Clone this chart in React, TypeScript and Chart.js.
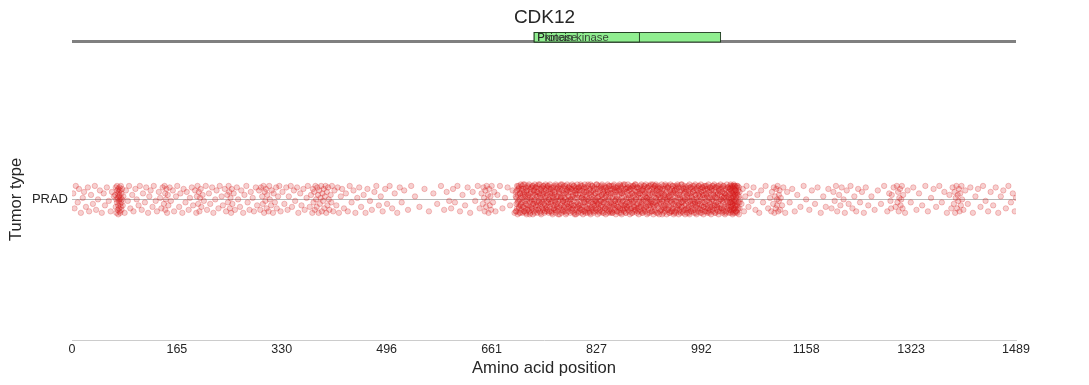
import React, { useEffect, useRef } from "react";
import { Chart, registerables } from "chart.js";

Chart.register(...registerables);

const FONT = "'Liberation Sans', Arial, Helvetica, sans-serif";
const TEXT = "#262626";

const geneName = "CDK12";
const proteinLength = 1489;
const tumorTypes = ["PRAD"];
const xTickValues = [0, 165.4, 330.9, 496.3, 661.8, 827.2, 992.7, 1158.1, 1323.6, 1489];
const xTickLabels = ["0", "165", "330", "496", "661", "827", "992", "1158", "1323", "1489"];

const domainNames = ["Protein kinase", "Pkinase"];
const domainStarts = [729, 729];
const domainEnds = [1023, 895];

// mutations: [amino acid position, jitter around the tumor-type row]
const nTermPoints: [number, number][] = [
  [2,4],[4,-6],[6,9],[9,-2],[11,7],[14,-9],[17,1],[19,5],[22,-5],[25,8],[27,-8],[30,3],[33,-3],[36,9],[38,-7],[41,0],[44,6],[47,-9],[50,4],[52,-4],[55,8],[58,-1],[61,-8],[63,5],[66,2],
];
const hotspot70Points: [number, number][] = [
  [68,3],[69,-5],[69,8],[70,0],[70,-9],[71,6],[71,-2],[71,9],[72,-7],[72,1],[72,4],[73,-4],[73,7],[73,-10],[74,2],[74,-1],[74,5],[74,-6],[75,0],[75,8],[75,-8],[75,3],[76,-3],[76,6],[76,-9],[77,1],[77,9],[77,-5],[78,4],[78,-2],[78,-7],[79,7],[79,0],[80,-4],[81,2],
];
const rsDomainPoints: [number, number][] = [
  [83,-9],[85,6],[88,-1],[90,9],[92,-6],[95,3],[97,-8],[100,7],[102,0],[105,-4],[107,9],[110,-7],[112,4],[115,-2],[117,8],[120,-9],[122,2],[124,6],[127,-5],[129,9],[132,-1],[134,-8],[137,5],[139,1],[141,-6],[143,8],[145,-3],[146,9],[147,4],[147,-7],[148,0],[149,7],[150,-9],[151,3],[152,-4],[154,8],[156,-1],[159,6],[161,-8],[164,2],[166,9],[169,-5],[171,4],[174,-9],[176,7],[179,-2],[181,5],[184,-7],[186,1],[189,8],[191,-4],[194,6],[196,-9],[197,2],[198,9],[199,-3],[200,5],[201,-8],[202,1],[203,7],[204,-5],[206,3],[208,-1],[211,9],[213,-7],[216,4],[218,-3],[221,8],[223,-9],[226,0],[228,6],[231,-6],[233,9],[236,2],[238,-4],[241,7],[243,-8],[245,3],[246,-2],[247,9],[248,5],[249,-6],[250,1],[251,-9],[252,7],[253,-3],[255,4],[257,-7],[260,8],[262,0],[265,-5],[267,6],[270,-9],[272,3],[275,9],[277,-2],[280,-7],[282,5],[285,1],[287,-8],[290,8],[292,-4],[295,6],
];
const midPoints: [number, number][] = [
  [297,-7],[298,8],[300,2],[301,-3],[302,9],[303,-9],[304,5],[305,-1],[306,7],[307,-6],[308,3],[310,-8],[311,9],[312,0],[314,-4],[315,6],[317,-9],[318,4],[320,-2],[322,8],[323,-6],[325,2],[327,9],[329,-8],[332,5],[335,-3],[338,8],[340,-7],[342,2],[345,9],[347,-5],[350,6],[352,-1],[355,8],[357,-9],[360,4],[362,-4],[365,7],[367,-7],[370,1],[372,9],[375,-5],[377,3],[379,-9],[380,7],[381,-2],[382,5],[383,-7],[384,9],[385,0],[386,-5],[387,8],[388,3],[389,-9],[390,6],[391,-3],[392,1],[393,9],[394,-8],[395,4],[396,-1],[397,7],[398,-6],[399,2],[400,9],[401,-9],[402,5],[403,-4],[404,8],[405,0],[406,-7],[408,3],[409,-2],[410,9],[412,-8],[414,6],[417,-4],[419,8],[421,-9],[424,2],[426,7],[429,-6],
];
const sparsePoints: [number, number][] = [
  [432,4],[435,-8],[438,9],[441,-2],[444,6],[447,-9],[450,1],[453,8],[456,-5],[460,3],[463,-9],[466,7],[470,-1],[473,-7],[477,5],[480,9],[484,-4],[487,2],[490,-8],[494,7],[497,-3],[501,9],[505,-6],[509,4],[513,-9],[517,8],[520,-2],[524,6],[530,-7],[535,9],[541,2],[548,-5],[556,7],[563,-8],[570,4],[576,-3],[582,9],[587,-7],[591,5],[595,-1],
  [598,-6],[601,7],[604,-2],[608,9],[612,-8],[616,3],[620,-4],[624,8],[628,-9],[632,5],[636,-1],[640,9],[643,-6],[646,4],[648,-3],[649,8],[650,1],[651,-8],[652,6],[653,-5],[654,9],[655,-1],[656,3],[657,-9],[658,7],[659,-4],[660,2],[661,-7],[662,9],[664,-2],[666,5],[668,-8],[671,3],[675,9],[679,-6],[683,1],[687,8],[691,-4],[695,6],[698,-9],
];
const kinaseBlockA: [number, number][] = [
  [700,-8],[700,5],[701,1],[701,-3],[702,9],[702,-6],[703,3],[703,-10],[704,7],[704,-1],[705,-5],[705,8],[706,0],[706,-9],[707,4],[707,-4],[708,10],[708,2],[709,-7],[709,6],[710,-2],[710,9],[711,-9],[711,3],[712,7],[712,-5],[713,-1],[713,5],[714,-8],[714,10],[715,2],[715,-6],[716,8],[716,-3],[717,-10],[717,4],[718,6],[718,0],[719,-7],[719,9],[720,-4],[720,3],[721,10],[721,-8],[722,1],[722,-2],[723,7],[723,-9],[724,5],[724,-5],[725,-1],[725,8],[726,-6],[726,2],[727,9],[727,-10],[728,4],[728,-3],[729,-8],[729,6],[730,0],[730,10],[731,-5],[731,3],[732,8],[732,-7],[733,-2],[733,5],[734,-9],[734,9],[735,2],[735,-4],[736,7],[736,-1],[737,-6],[737,4],[738,10],[738,-8],[739,1],[739,-3],[740,6],[740,-10],[741,-5],[741,8],[742,3],[742,-2],[743,-7],[743,9],[744,0],[744,5],[745,-9],[745,7],[746,-4],[746,2],[747,10],[747,-6],[748,-1],[748,4],[749,8],[749,-8],
  [750,3],[750,-7],[751,9],[751,-2],[752,-9],[752,5],[753,0],[753,7],[754,-5],[754,10],[755,-3],[755,2],[756,8],[756,-8],[757,-1],[757,4],[758,-10],[758,6],[759,1],[759,-6],[760,9],[760,-4],[761,-7],[761,3],[762,5],[762,-2],[763,10],[763,-9],[764,-3],[764,1],[765,7],[765,-5],[766,-8],[766,8],[767,2],[767,-1],[768,-6],[768,6],[769,9],[769,-10],[770,0],[770,4],[771,-4],[771,10],[772,-9],[772,2],[773,6],[773,-3],[774,-7],[774,8],[775,3],[775,-1],[776,-5],[776,9],[777,1],[777,-8],[778,7],[778,-2],[779,-10],[779,5],[780,4],[780,-6],[781,10],[781,-3],[782,-1],[782,6],[783,-8],[783,2],[784,8],[784,-5],[785,-2],[785,9],[786,5],[786,-9],[787,-4],[787,0],[788,7],[788,-7],[789,2],[789,10],[790,-6],[790,3],[791,9],[791,-1],[792,-9],[792,6],[793,1],[793,-4],[794,-7],[794,8],[795,4],[795,-10],[796,-2],[796,7],[797,10],[797,-5],[798,-3],[798,3],[799,6],[799,-8],
];
const kinaseBlockB: [number, number][] = [
  [800,-1],[800,8],[801,-6],[801,4],[802,10],[802,-3],[803,-9],[803,1],[804,6],[804,-7],[805,2],[805,9],[806,-4],[806,-10],[807,7],[807,0],[808,-2],[808,5],[809,-8],[809,10],[810,3],[810,-5],[811,8],[811,-1],[812,-7],[812,6],[813,0],[813,-9],[814,9],[814,-3],[815,-6],[815,4],[816,1],[816,-8],[817,7],[817,-4],[818,-10],[818,10],[819,5],[819,-2],[820,-5],[820,2],[821,9],[821,-7],[822,-3],[822,6],[823,-9],[823,3],[824,8],[824,-1],[825,-6],[825,0],[826,4],[826,-8],[827,10],[827,-4],[828,-2],[828,7],[829,-10],[829,1],[830,5],[830,-6],[831,-3],[831,9],[832,2],[832,-9],[833,-7],[833,6],[834,8],[834,-1],[835,-4],[835,3],[836,10],[836,-8],[837,0],[837,-5],[838,7],[838,-2],[839,-9],[839,4],[840,1],[840,9],[841,-6],[841,6],[842,-1],[842,-10],[843,8],[843,3],[844,-7],[844,-3],[845,5],[845,10],[846,-5],[846,0],[847,9],[847,-8],[848,2],[848,-4],[849,6],[849,-9],
  [850,4],[850,-2],[851,-8],[851,9],[852,1],[852,-5],[853,7],[853,-9],[854,-3],[854,5],[855,10],[855,-7],[856,-1],[856,3],[857,-6],[857,8],[858,0],[858,-10],[859,6],[859,-4],[860,-8],[860,2],[861,9],[861,-2],[862,-5],[862,7],[863,3],[863,-9],[864,-1],[864,10],[865,-7],[865,5],[866,8],[866,-3],[867,-10],[867,1],[868,4],[868,-6],[869,9],[869,-1],[870,-4],[870,6],[871,2],[871,-8],[872,-6],[872,10],[873,7],[873,-3],[874,-9],[874,0],[875,5],[875,-5],[876,-2],[876,8],[877,10],[877,-7],[878,1],[878,-4],[879,-8],[879,6],[880,3],[880,-10],[881,-3],[881,9],[882,7],[882,-6],[883,-1],[883,4],[884,-9],[884,8],[885,2],[885,-2],[886,9],[886,-5],[887,-7],[887,3],[888,6],[888,-8],[889,0],[889,10],[890,-4],[890,1],[891,8],[891,-9],[892,-6],[892,5],[893,3],[893,-3],[894,-10],[894,7],[895,4],[895,-1],[896,-7],[896,9],[897,1],[897,-5],[898,10],[898,-8],[899,-2],[899,6],
];
const kinaseBlockC: [number, number][] = [
  [900,-9],[900,3],[901,7],[901,-4],[902,0],[902,9],[903,-6],[903,5],[904,2],[904,-8],[905,10],[905,-1],[906,-5],[906,6],[907,-10],[907,1],[908,8],[908,-3],[909,4],[909,-7],[910,-2],[910,9],[911,6],[911,-9],[912,-4],[912,3],[913,10],[913,-6],[914,0],[914,-1],[915,7],[915,-8],[916,-3],[916,5],[917,-10],[917,8],[918,2],[918,-5],[919,9],[919,-2],[920,-7],[920,4],[921,1],[921,10],[922,-9],[922,6],[923,-4],[923,-1],[924,8],[924,3],[925,-6],[925,9],[926,5],[926,-10],[927,-2],[927,7],[928,-8],[928,0],[929,4],[929,-3],[930,10],[930,-7],[931,-1],[931,6],[932,-5],[932,2],[933,9],[933,-9],[934,3],[934,-4],[935,-8],[935,7],[936,1],[936,10],[937,-6],[937,-2],[938,5],[938,-10],[939,8],[939,0],[940,-3],[940,4],[941,-7],[941,9],[942,2],[942,-5],[943,6],[943,-9],[944,-1],[944,10],[945,-4],[945,3],[946,7],[946,-8],[947,0],[947,-6],[948,9],[948,5],[949,-3],[949,-10],
  [950,6],[950,-1],[951,-8],[951,2],[952,9],[952,-5],[953,4],[953,-9],[954,-2],[954,7],[955,-6],[955,10],[956,1],[956,-4],[957,8],[957,-10],[958,-3],[958,3],[959,5],[959,-7],[960,-9],[960,0],[961,10],[961,-2],[962,-5],[962,6],[963,2],[963,-8],[964,8],[964,-1],[965,-7],[965,4],[966,-4],[966,9],[967,0],[967,-10],[968,7],[968,-3],[969,-6],[969,5],[970,3],[970,-9],[971,9],[971,1],[972,-2],[972,-7],[973,6],[973,-5],[974,-10],[974,10],[975,4],[975,-1],[976,-8],[976,8],[977,2],[977,-4],[978,-6],[978,7],[979,9],[979,-3],[980,-1],[980,5],[981,-9],[981,0],[982,6],[982,-7],[983,10],[983,-2],[984,-5],[984,3],[985,1],[985,-10],[986,8],[986,-4],[987,-3],[987,6],[988,-8],[988,9],[989,4],[989,-1],[990,-6],[990,2],[991,7],[991,-9],[992,0],[992,10],[993,-4],[993,5],[994,-7],[994,8],[995,3],[995,-2],[996,-10],[996,6],[997,9],[997,-5],[998,1],[998,-8],[999,-3],[999,7],
];
const kinaseBlockD: [number, number][] = [
  [1000,4],[1000,-6],[1001,-1],[1001,9],[1002,-9],[1002,2],[1003,6],[1003,-4],[1004,10],[1004,-8],[1005,-2],[1005,5],[1006,-7],[1006,1],[1007,8],[1007,-3],[1008,3],[1008,-10],[1009,-5],[1009,7],[1010,0],[1010,9],[1011,-8],[1011,4],[1012,-1],[1012,-6],[1013,6],[1013,10],[1014,-4],[1014,2],[1015,-9],[1015,8],[1016,5],[1016,-2],[1017,-7],[1017,1],[1018,9],[1018,-5],[1019,-3],[1019,4],[1020,7],[1020,-10],[1021,-1],[1021,6],[1022,-8],[1022,3],[1023,10],[1023,-4],[1024,-6],[1024,0],[1025,2],[1025,8],[1026,-9],[1026,5],[1027,-2],[1027,-7],[1028,9],[1028,1],[1029,4],[1029,-5],[1030,-10],[1030,7],[1031,3],[1031,-3],[1032,6],[1032,-8],[1033,-1],[1033,10],[1034,-6],[1034,2],[1035,8],[1035,-4],[1036,-9],[1036,5],[1037,0],[1037,-7],[1038,7],[1038,-2],[1038,3],[1039,-9],[1039,10],[1039,-5],[1040,1],[1040,6],[1040,-8],[1041,-3],[1041,9],[1041,-1],[1042,4],[1042,-10],[1042,8],[1043,-6],[1043,2],[1043,-4],[1044,10],[1044,-7],[1044,5],[1045,0],[1045,-2],[1045,7],[1046,-9],[1046,3],[1046,9],[1047,-5],[1047,6],[1047,-1],[1048,8],[1048,-8],[1048,1],[1049,-4],[1049,4],[1050,9],[1050,-7],[1051,-2],[1051,6],[1052,-10],[1052,2],[1053,5],[1053,-6],[1054,0],
];
const kinaseExtra: [number, number][] = [
  [700,2],[701,-8],[702,6],[703,-2],[704,9],[705,-6],[706,4],[707,-9],[708,-3],[709,7],[710,1],[711,-5],[712,10],[713,-8],[714,3],[715,-1],[716,-9],[717,6],[718,-4],[719,2],[720,8],[721,-6],[722,-10],[723,4],[724,0],[725,-7],[726,9],[727,-3],[728,6],[729,-1],[730,-9],[731,8],[732,-4],[733,2],[734,5],[735,-7],[736,10],[737,-2],[738,3],[739,-9],[740,7],[741,-1],[742,-6],[743,4],[744,9],[745,-3],[746,-8],[747,1],[748,6],[749,-5],
  [750,9],[751,-4],[752,0],[753,-8],[754,4],[755,7],[756,-2],[757,-9],[758,2],[759,8],[760,-6],[761,5],[762,-1],[763,-7],[764,9],[765,2],[766,-3],[767,-10],[768,5],[769,-5],[770,7],[771,1],[772,-7],[773,10],[774,-1],[775,-8],[776,4],[777,-4],[778,9],[779,0],[780,-9],[781,6],[782,-5],[783,8],[784,2],[785,-6],[786,0],[787,7],[788,-3],[789,-8],[790,5],[791,-4],[792,9],[793,-10],[794,3],[795,6],[796,-6],[797,1],[798,-9],[799,8],
  [800,-4],[801,6],[802,-7],[803,9],[804,1],[805,-5],[806,3],[807,-8],[808,8],[809,-2],[810,-9],[811,5],[812,2],[813,-6],[814,10],[815,-1],[816,6],[817,-9],[818,3],[819,-6],[820,9],[821,0],[822,-8],[823,7],[824,-4],[825,4],[826,-1],[827,-7],[828,10],[829,-3],[830,2],[831,-8],[832,7],[833,-1],[834,-5],[835,9],[836,3],[837,-9],[838,5],[839,-2],[840,-6],[841,8],[842,2],[843,-5],[844,6],[845,-9],[846,4],[847,-1],[848,9],[849,-7],
  [850,7],[851,-3],[852,-9],[853,2],[854,9],[855,-4],[856,6],[857,-1],[858,5],[859,-8],[860,8],[861,-5],[862,0],[863,6],[864,-6],[865,9],[866,-9],[867,4],[868,-2],[869,-7],[870,10],[871,5],[872,-4],[873,-9],[874,7],[875,1],[876,-6],[877,3],[878,8],[879,-2],[880,7],[881,-6],[882,0],[883,-9],[884,4],[885,9],[886,-1],[887,-5],[888,10],[889,-7],[890,5],[891,-3],[892,8],[893,-8],[894,1],[895,-5],[896,4],[897,8],[898,-3],[899,-9],
  [900,6],[901,-1],[902,-7],[903,9],[904,4],[905,-5],[906,1],[907,8],[908,-9],[909,2],[910,-4],[911,0],[912,9],[913,-2],[914,-8],[915,4],[916,10],[917,-4],[918,6],[919,-8],[920,9],[921,-3],[922,1],[923,7],[924,-9],[925,3],[926,-3],[927,1],[928,8],[929,-7],[930,4],[931,-10],[932,7],[933,0],[934,-6],[935,3],[936,-4],[937,9],[938,-1],[939,-7],[940,8],[941,2],[942,-9],[943,1],[944,5],[945,-8],[946,-2],[947,9],[948,-6],[949,4],
  [950,-9],[951,6],[952,-1],[953,8],[954,-7],[955,3],[956,9],[957,-4],[958,-8],[959,1],[960,6],[961,-5],[962,10],[963,-2],[964,-9],[965,7],[966,1],[967,5],[968,-7],[969,8],[970,-1],[971,-6],[972,4],[973,-9],[974,2],[975,8],[976,-3],[977,-8],[978,1],[979,5],[980,-7],[981,9],[982,-3],[983,3],[984,-9],[985,7],[986,-1],[987,-6],[988,3],[989,9],[990,-3],[991,-7],[992,5],[993,-9],[994,1],[995,8],[996,-5],[997,3],[998,-2],[999,9],
  [1000,-8],[1001,3],[1002,7],[1003,-6],[1004,1],[1005,-9],[1006,8],[1007,-5],[1008,6],[1009,-1],[1010,-7],[1011,9],[1012,3],[1013,-4],[1014,-9],[1015,1],[1016,8],[1017,-4],[1018,3],[1019,-8],[1020,9],[1021,-6],[1022,5],[1023,0],[1024,7],[1025,-6],[1026,-1],[1027,9],[1028,-8],[1029,2],[1030,4],[1031,-9],[1032,1],[1033,-5],[1034,8],[1035,-2],[1036,1],[1037,7],[1038,-7],[1038,9],[1039,4],[1039,-2],[1040,-5],[1040,8],[1041,5],[1041,-7],[1042,-3],[1042,1],[1043,9],[1043,-9],[1044,-1],[1044,3],[1045,-6],[1045,9],[1046,6],[1046,-4],[1047,2],[1047,-8],[1048,5],[1048,-3],[1049,9],[1049,-9],[1050,3],[1051,-6],[1052,8],[1053,-2],
];
const cTermPoints: [number, number][] = [
  [1056,-3],[1058,7],[1060,-8],[1062,2],[1064,9],[1067,-5],[1069,4],[1072,-1],[1075,8],[1078,-7],[1081,3],[1084,-9],[1087,6],[1090,-2],[1094,9],[1098,-6],[1101,1],[1103,-8],[1104,5],[1106,-3],[1107,8],[1108,-9],[1109,2],[1110,-6],[1111,7],[1112,0],[1112,-4],[1113,9],[1114,-8],[1115,3],[1115,-1],[1116,6],[1117,-7],[1118,1],[1120,-4],[1122,8],[1125,-9],[1128,5],[1132,-2],[1136,7],[1140,-8],[1144,3],[1149,-5],[1154,9],[1158,0],[1163,-7],[1167,6],[1172,-3],[1176,8],[1181,-9],[1185,2],[1189,-5],[1193,7],
  [1198,-6],[1201,5],[1203,-1],[1205,9],[1207,-8],[1210,3],[1212,-4],[1214,8],[1217,0],[1219,-9],[1222,6],[1225,-3],[1228,9],[1231,-6],[1234,2],[1237,-8],[1240,7],[1243,-2],[1246,5],[1249,-9],[1252,8],[1256,-4],[1261,2],[1266,-7],[1271,6],[1276,-3],[1281,9],[1286,-8],[1289,4],[1291,-1],[1292,-6],[1293,3],[1296,8],[1299,-5],[1301,9],[1302,-2],[1303,5],[1304,-8],[1305,1],[1306,7],[1307,-4],[1308,0],[1309,9],[1310,-6],[1311,3],[1314,-9],[1318,6],[1323,-2],[1327,8],[1332,-7],[1336,4],[1341,-4],[1346,9],[1350,-8],[1355,1],[1359,7],[1363,-5],[1368,9],[1372,-2],[1376,5],[1380,-9],[1384,3],[1387,-6],[1389,8],[1391,-3],[1392,5],[1393,-9],[1394,1],[1395,9],[1396,-6],[1397,3],[1398,-1],[1399,7],[1400,-8],[1401,4],[1402,-4],[1403,9],[1404,0],[1406,-7],[1409,6],[1413,-3],[1417,8],[1421,-9],[1425,2],[1429,7],[1433,-5],[1437,9],[1441,-1],[1445,-8],[1449,5],[1453,-4],[1457,8],[1461,-9],[1465,2],[1469,6],[1473,-6],[1477,9],[1481,-2],[1484,4],[1487,-8],[1489,1],
];

const allMutations = [
  ...nTermPoints, ...hotspot70Points, ...rsDomainPoints, ...midPoints, ...sparsePoints,
  ...kinaseBlockA, ...kinaseBlockB, ...kinaseBlockC, ...kinaseBlockD, ...kinaseExtra, ...cTermPoints,
];

const trackPlugin = {
  id: "proteinTrack",
  afterDraw(chart: any) {
    const { ctx } = chart;
    const xs = chart.scales.x;
    const backboneY = 41.5;
    const boxTop = 32.5;
    const boxH = 9.5;
    ctx.save();
    ctx.strokeStyle = "#808080";
    ctx.lineWidth = 3;
    ctx.beginPath();
    ctx.moveTo(xs.getPixelForValue(0), backboneY);
    ctx.lineTo(xs.getPixelForValue(proteinLength), backboneY);
    ctx.stroke();
    for (let i = 0; i < domainNames.length; i++) {
      const x0 = xs.getPixelForValue(domainStarts[i]);
      const x1 = xs.getPixelForValue(domainEnds[i]);
      ctx.fillStyle = "#90ee90";
      ctx.fillRect(x0, boxTop, x1 - x0, boxH);
      ctx.strokeStyle = "#1f3a1f";
      ctx.lineWidth = 0.9;
      ctx.strokeRect(x0, boxTop, x1 - x0, boxH);
    }
    for (let i = 0; i < domainNames.length; i++) {
      const x0 = xs.getPixelForValue(domainStarts[i]);
      ctx.fillStyle = "rgba(38,38,38,0.85)";
      ctx.font = `11.3px ${FONT}`;
      ctx.textAlign = "left";
      ctx.textBaseline = "middle";
      ctx.fillText(domainNames[i], x0 + 3, boxTop + boxH / 2 + 0.5);
    }
    ctx.restore();
  },
};

export default function App() {
  const ref = useRef<HTMLCanvasElement | null>(null);
  useEffect(() => {
    if (!ref.current) return;
    const chart = new Chart(ref.current, {
      type: "scatter",
      data: {
        datasets: [
          {
            label: tumorTypes[0],
            data: allMutations.map(([pos, j]) => ({ x: pos, y: j })),
            pointRadius: 2.7,
            pointHoverRadius: 2.7,
            backgroundColor: "rgba(212,22,22,0.2)",
            borderColor: "rgba(212,22,22,0.3)",
            borderWidth: 0.8,
          },
        ],
      },
      options: {
        animation: false,
        responsive: false,
        events: [],
        layout: { padding: { left: 0, right: 0, top: 0, bottom: 0 } },
        plugins: {
          legend: { display: false },
          tooltip: { enabled: false },
          title: {
            display: true,
            text: geneName,
            color: TEXT,
            font: { family: FONT, size: 19, weight: "normal" },
            padding: { top: 6, bottom: 30 },
          },
        },
        scales: {
          x: {
            type: "linear",
            min: 0,
            max: proteinLength,
            grid: { display: false, drawTicks: false },
            border: { display: true, color: "#cccccc", width: 1 },
            afterBuildTicks: (scale: any) => {
              scale.ticks = xTickValues.map((v) => ({ value: v }));
            },
            afterFit: (scale: any) => {
              scale.height = 45;
            },
            ticks: {
              autoSkip: false,
              maxRotation: 0,
              padding: 2,
              color: TEXT,
              font: { family: FONT, size: 12.5 },
              callback: (_v: any, i: number) => xTickLabels[i],
            },
            title: {
              display: true,
              text: "Amino acid position",
              color: TEXT,
              font: { family: FONT, size: 16.6 },
              padding: { top: 2, bottom: 7 },
            },
          },
          y: {
            type: "linear",
            min: -94,
            max: 94,
            grid: { display: true, color: "#b8b8b8", lineWidth: 1, drawTicks: false },
            border: { display: false },
            afterBuildTicks: (scale: any) => {
              scale.ticks = [{ value: 0 }];
            },
            afterFit: (scale: any) => {
              scale.width = 72;
            },
            ticks: {
              padding: 4,
              color: TEXT,
              font: { family: FONT, size: 13 },
              callback: () => tumorTypes[0],
            },
            title: {
              display: true,
              text: "Tumor type",
              color: TEXT,
              font: { family: FONT, size: 16.6 },
              padding: { top: 6, bottom: 0 },
            },
          },
          yRightSpacer: {
            type: "linear",
            position: "right",
            display: true,
            grid: { display: false, drawTicks: false },
            border: { display: false },
            ticks: { display: false },
            afterFit: (scale: any) => {
              scale.width = 73;
            },
          },
        },
      },
      plugins: [trackPlugin],
    } as any);
    return () => chart.destroy();
  }, []);
  return (
    <div style={{ position: "absolute", left: 0, top: 0, width: 1089, height: 385, background: "#fff" }}>
      <canvas ref={ref} width={1089} height={385} style={{ display: "block" }} />
    </div>
  );
}
